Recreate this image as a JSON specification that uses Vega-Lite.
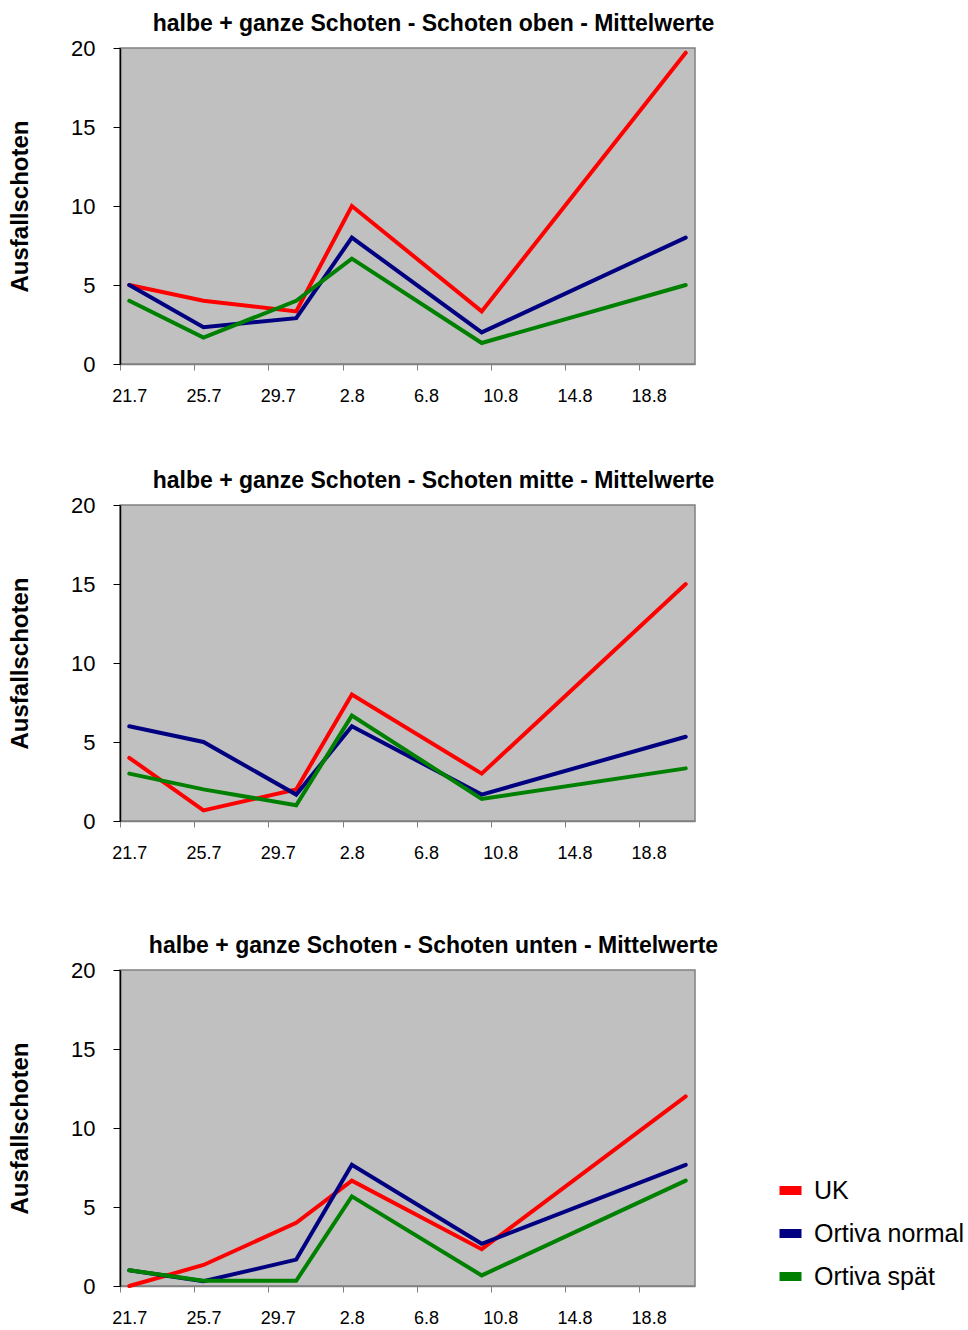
{
  "$schema": "https://vega.github.io/schema/vega-lite/v6.json",
  "padding": {"left": 7, "top": 12, "right": 5, "bottom": 5},
  "background": "white",
  "config": {
    "font": "Liberation Sans",
    "view": {"stroke": "#808080", "strokeWidth": 1.5, "fill": "#C0C0C0"},
    "title": {"fontSize": 23, "fontWeight": "bold", "color": "black", "anchor": "middle", "baseline": "alphabetic", "offset": 1, "dx": 26},
    "axis": {"grid": false, "labelColor": "black", "titleColor": "black"},
    "legend": {
      "orient": "none", "legendX": 655, "legendY": 1127,
      "title": null, "symbolType": "stroke", "symbolStrokeWidth": 9, "symbolSize": 484,
      "labelFontSize": 25, "labelColor": "black", "labelOffset": 8, "rowPadding": 6, "labelLimit": 300
    }
  },
  "spacing": 63,
  "datasets": {
    "oben": [
      {"date": "2008-07-21", "series": "UK", "value": 5},
      {"date": "2008-07-25", "series": "UK", "value": 4},
      {"date": "2008-07-30", "series": "UK", "value": 3.33},
      {"date": "2008-08-02", "series": "UK", "value": 10},
      {"date": "2008-08-09", "series": "UK", "value": 3.33},
      {"date": "2008-08-20", "series": "UK", "value": 19.7},
      {"date": "2008-07-21", "series": "Ortiva normal", "value": 5},
      {"date": "2008-07-25", "series": "Ortiva normal", "value": 2.33},
      {"date": "2008-07-30", "series": "Ortiva normal", "value": 2.9},
      {"date": "2008-08-02", "series": "Ortiva normal", "value": 8},
      {"date": "2008-08-09", "series": "Ortiva normal", "value": 2},
      {"date": "2008-08-20", "series": "Ortiva normal", "value": 8},
      {"date": "2008-07-21", "series": "Ortiva spät", "value": 4},
      {"date": "2008-07-25", "series": "Ortiva spät", "value": 1.67},
      {"date": "2008-07-30", "series": "Ortiva spät", "value": 4},
      {"date": "2008-08-02", "series": "Ortiva spät", "value": 6.67},
      {"date": "2008-08-09", "series": "Ortiva spät", "value": 1.33},
      {"date": "2008-08-20", "series": "Ortiva spät", "value": 5}
    ],
    "mitte": [
      {"date": "2008-07-21", "series": "UK", "value": 4},
      {"date": "2008-07-25", "series": "UK", "value": 0.67},
      {"date": "2008-07-30", "series": "UK", "value": 2},
      {"date": "2008-08-02", "series": "UK", "value": 8},
      {"date": "2008-08-09", "series": "UK", "value": 3},
      {"date": "2008-08-20", "series": "UK", "value": 15},
      {"date": "2008-07-21", "series": "Ortiva normal", "value": 6},
      {"date": "2008-07-25", "series": "Ortiva normal", "value": 5},
      {"date": "2008-07-30", "series": "Ortiva normal", "value": 1.67},
      {"date": "2008-08-02", "series": "Ortiva normal", "value": 6},
      {"date": "2008-08-09", "series": "Ortiva normal", "value": 1.67},
      {"date": "2008-08-20", "series": "Ortiva normal", "value": 5.33},
      {"date": "2008-07-21", "series": "Ortiva spät", "value": 3},
      {"date": "2008-07-25", "series": "Ortiva spät", "value": 2},
      {"date": "2008-07-30", "series": "Ortiva spät", "value": 1},
      {"date": "2008-08-02", "series": "Ortiva spät", "value": 6.67},
      {"date": "2008-08-09", "series": "Ortiva spät", "value": 1.4},
      {"date": "2008-08-20", "series": "Ortiva spät", "value": 3.33}
    ],
    "unten": [
      {"date": "2008-07-21", "series": "UK", "value": 0},
      {"date": "2008-07-25", "series": "UK", "value": 1.33},
      {"date": "2008-07-30", "series": "UK", "value": 4},
      {"date": "2008-08-02", "series": "UK", "value": 6.67},
      {"date": "2008-08-09", "series": "UK", "value": 2.33},
      {"date": "2008-08-20", "series": "UK", "value": 12},
      {"date": "2008-07-21", "series": "Ortiva normal", "value": 1},
      {"date": "2008-07-25", "series": "Ortiva normal", "value": 0.3},
      {"date": "2008-07-30", "series": "Ortiva normal", "value": 1.67},
      {"date": "2008-08-02", "series": "Ortiva normal", "value": 7.67},
      {"date": "2008-08-09", "series": "Ortiva normal", "value": 2.67},
      {"date": "2008-08-20", "series": "Ortiva normal", "value": 7.67},
      {"date": "2008-07-21", "series": "Ortiva spät", "value": 1},
      {"date": "2008-07-25", "series": "Ortiva spät", "value": 0.33},
      {"date": "2008-07-30", "series": "Ortiva spät", "value": 0.33},
      {"date": "2008-08-02", "series": "Ortiva spät", "value": 5.67},
      {"date": "2008-08-09", "series": "Ortiva spät", "value": 0.67},
      {"date": "2008-08-20", "series": "Ortiva spät", "value": 6.67}
    ]
  },
  "vconcat": [
    {
      "title": "halbe + ganze Schoten - Schoten oben - Mittelwerte",
      "width": 575, "height": 316,
      "data": {"name": "oben"},
      "mark": {"type": "line", "strokeWidth": 4, "strokeCap": "round", "strokeJoin": "miter"},
      "encoding": {
        "x": {"field": "date", "type": "temporal",
          "scale": {"type": "utc", "domain": [{"year": 2008, "month": 7, "date": 20, "hours": 12, "utc": true}, {"year": 2008, "month": 8, "date": 20, "hours": 12, "utc": true}]},
          "axis": {"title": null, "labelExpr": "utcFormat(datum.value, '%-d.%-m')",
            "values": [{"year": 2008, "month": 7, "date": 21, "utc": true}, {"year": 2008, "month": 7, "date": 25, "utc": true}, {"year": 2008, "month": 7, "date": 29, "utc": true}, {"year": 2008, "month": 8, "date": 2, "utc": true}, {"year": 2008, "month": 8, "date": 6, "utc": true}, {"year": 2008, "month": 8, "date": 10, "utc": true}, {"year": 2008, "month": 8, "date": 14, "utc": true}, {"year": 2008, "month": 8, "date": 18, "utc": true}],
            "tickOffset": -9.27, "labelOffset": 9.27, "tickColor": "#808080", "tickSize": 6, "domainColor": "#808080", "domainWidth": 1.5,
            "labelFontSize": 18, "labelPadding": 17, "labelFlush": false, "labelOverlap": false}},
        "y": {"field": "value", "type": "quantitative",
          "scale": {"domain": [0, 20], "nice": false},
          "axis": {"title": "Ausfallschoten", "values": [0, 5, 10, 15, 20], "tickColor": "black", "tickSize": 7, "domainColor": "black", "domainWidth": 1.5,
            "labelFontSize": 22, "labelPadding": 18, "titleFontSize": 24, "titleFontWeight": "bold", "titlePadding": 38}},
        "color": {"field": "series", "type": "nominal", "sort": ["UK", "Ortiva normal", "Ortiva spät"],
          "scale": {"domain": ["UK", "Ortiva normal", "Ortiva spät"], "range": ["#FF0000", "#000080", "#008000"]}}
      }
    },
    {
      "title": "halbe + ganze Schoten - Schoten mitte - Mittelwerte",
      "width": 575, "height": 316,
      "data": {"name": "mitte"},
      "mark": {"type": "line", "strokeWidth": 4, "strokeCap": "round", "strokeJoin": "miter"},
      "encoding": {
        "x": {"field": "date", "type": "temporal",
          "scale": {"type": "utc", "domain": [{"year": 2008, "month": 7, "date": 20, "hours": 12, "utc": true}, {"year": 2008, "month": 8, "date": 20, "hours": 12, "utc": true}]},
          "axis": {"title": " ", "titleFontSize": 2, "titlePadding": 6, "labelExpr": "utcFormat(datum.value, '%-d.%-m')",
            "values": [{"year": 2008, "month": 7, "date": 21, "utc": true}, {"year": 2008, "month": 7, "date": 25, "utc": true}, {"year": 2008, "month": 7, "date": 29, "utc": true}, {"year": 2008, "month": 8, "date": 2, "utc": true}, {"year": 2008, "month": 8, "date": 6, "utc": true}, {"year": 2008, "month": 8, "date": 10, "utc": true}, {"year": 2008, "month": 8, "date": 14, "utc": true}, {"year": 2008, "month": 8, "date": 18, "utc": true}],
            "tickOffset": -9.27, "labelOffset": 9.27, "tickColor": "#808080", "tickSize": 6, "domainColor": "#808080", "domainWidth": 1.5,
            "labelFontSize": 18, "labelPadding": 17, "labelFlush": false, "labelOverlap": false}},
        "y": {"field": "value", "type": "quantitative",
          "scale": {"domain": [0, 20], "nice": false},
          "axis": {"title": "Ausfallschoten", "values": [0, 5, 10, 15, 20], "tickColor": "black", "tickSize": 7, "domainColor": "black", "domainWidth": 1.5,
            "labelFontSize": 22, "labelPadding": 18, "titleFontSize": 24, "titleFontWeight": "bold", "titlePadding": 38}},
        "color": {"field": "series", "type": "nominal", "sort": ["UK", "Ortiva normal", "Ortiva spät"],
          "scale": {"domain": ["UK", "Ortiva normal", "Ortiva spät"], "range": ["#FF0000", "#000080", "#008000"]}}
      }
    },
    {
      "title": "halbe + ganze Schoten - Schoten unten - Mittelwerte",
      "width": 575, "height": 316,
      "data": {"name": "unten"},
      "mark": {"type": "line", "strokeWidth": 4, "strokeCap": "round", "strokeJoin": "miter"},
      "encoding": {
        "x": {"field": "date", "type": "temporal",
          "scale": {"type": "utc", "domain": [{"year": 2008, "month": 7, "date": 20, "hours": 12, "utc": true}, {"year": 2008, "month": 8, "date": 20, "hours": 12, "utc": true}]},
          "axis": {"title": null, "labelExpr": "utcFormat(datum.value, '%-d.%-m')",
            "values": [{"year": 2008, "month": 7, "date": 21, "utc": true}, {"year": 2008, "month": 7, "date": 25, "utc": true}, {"year": 2008, "month": 7, "date": 29, "utc": true}, {"year": 2008, "month": 8, "date": 2, "utc": true}, {"year": 2008, "month": 8, "date": 6, "utc": true}, {"year": 2008, "month": 8, "date": 10, "utc": true}, {"year": 2008, "month": 8, "date": 14, "utc": true}, {"year": 2008, "month": 8, "date": 18, "utc": true}],
            "tickOffset": -9.27, "labelOffset": 9.27, "tickColor": "#808080", "tickSize": 6, "domainColor": "#808080", "domainWidth": 1.5,
            "labelFontSize": 18, "labelPadding": 17, "labelFlush": false, "labelOverlap": false}},
        "y": {"field": "value", "type": "quantitative",
          "scale": {"domain": [0, 20], "nice": false},
          "axis": {"title": "Ausfallschoten", "values": [0, 5, 10, 15, 20], "tickColor": "black", "tickSize": 7, "domainColor": "black", "domainWidth": 1.5,
            "labelFontSize": 22, "labelPadding": 18, "titleFontSize": 24, "titleFontWeight": "bold", "titlePadding": 38}},
        "color": {"field": "series", "type": "nominal", "sort": ["UK", "Ortiva normal", "Ortiva spät"],
          "scale": {"domain": ["UK", "Ortiva normal", "Ortiva spät"], "range": ["#FF0000", "#000080", "#008000"]}}
      }
    }
  ]
}
